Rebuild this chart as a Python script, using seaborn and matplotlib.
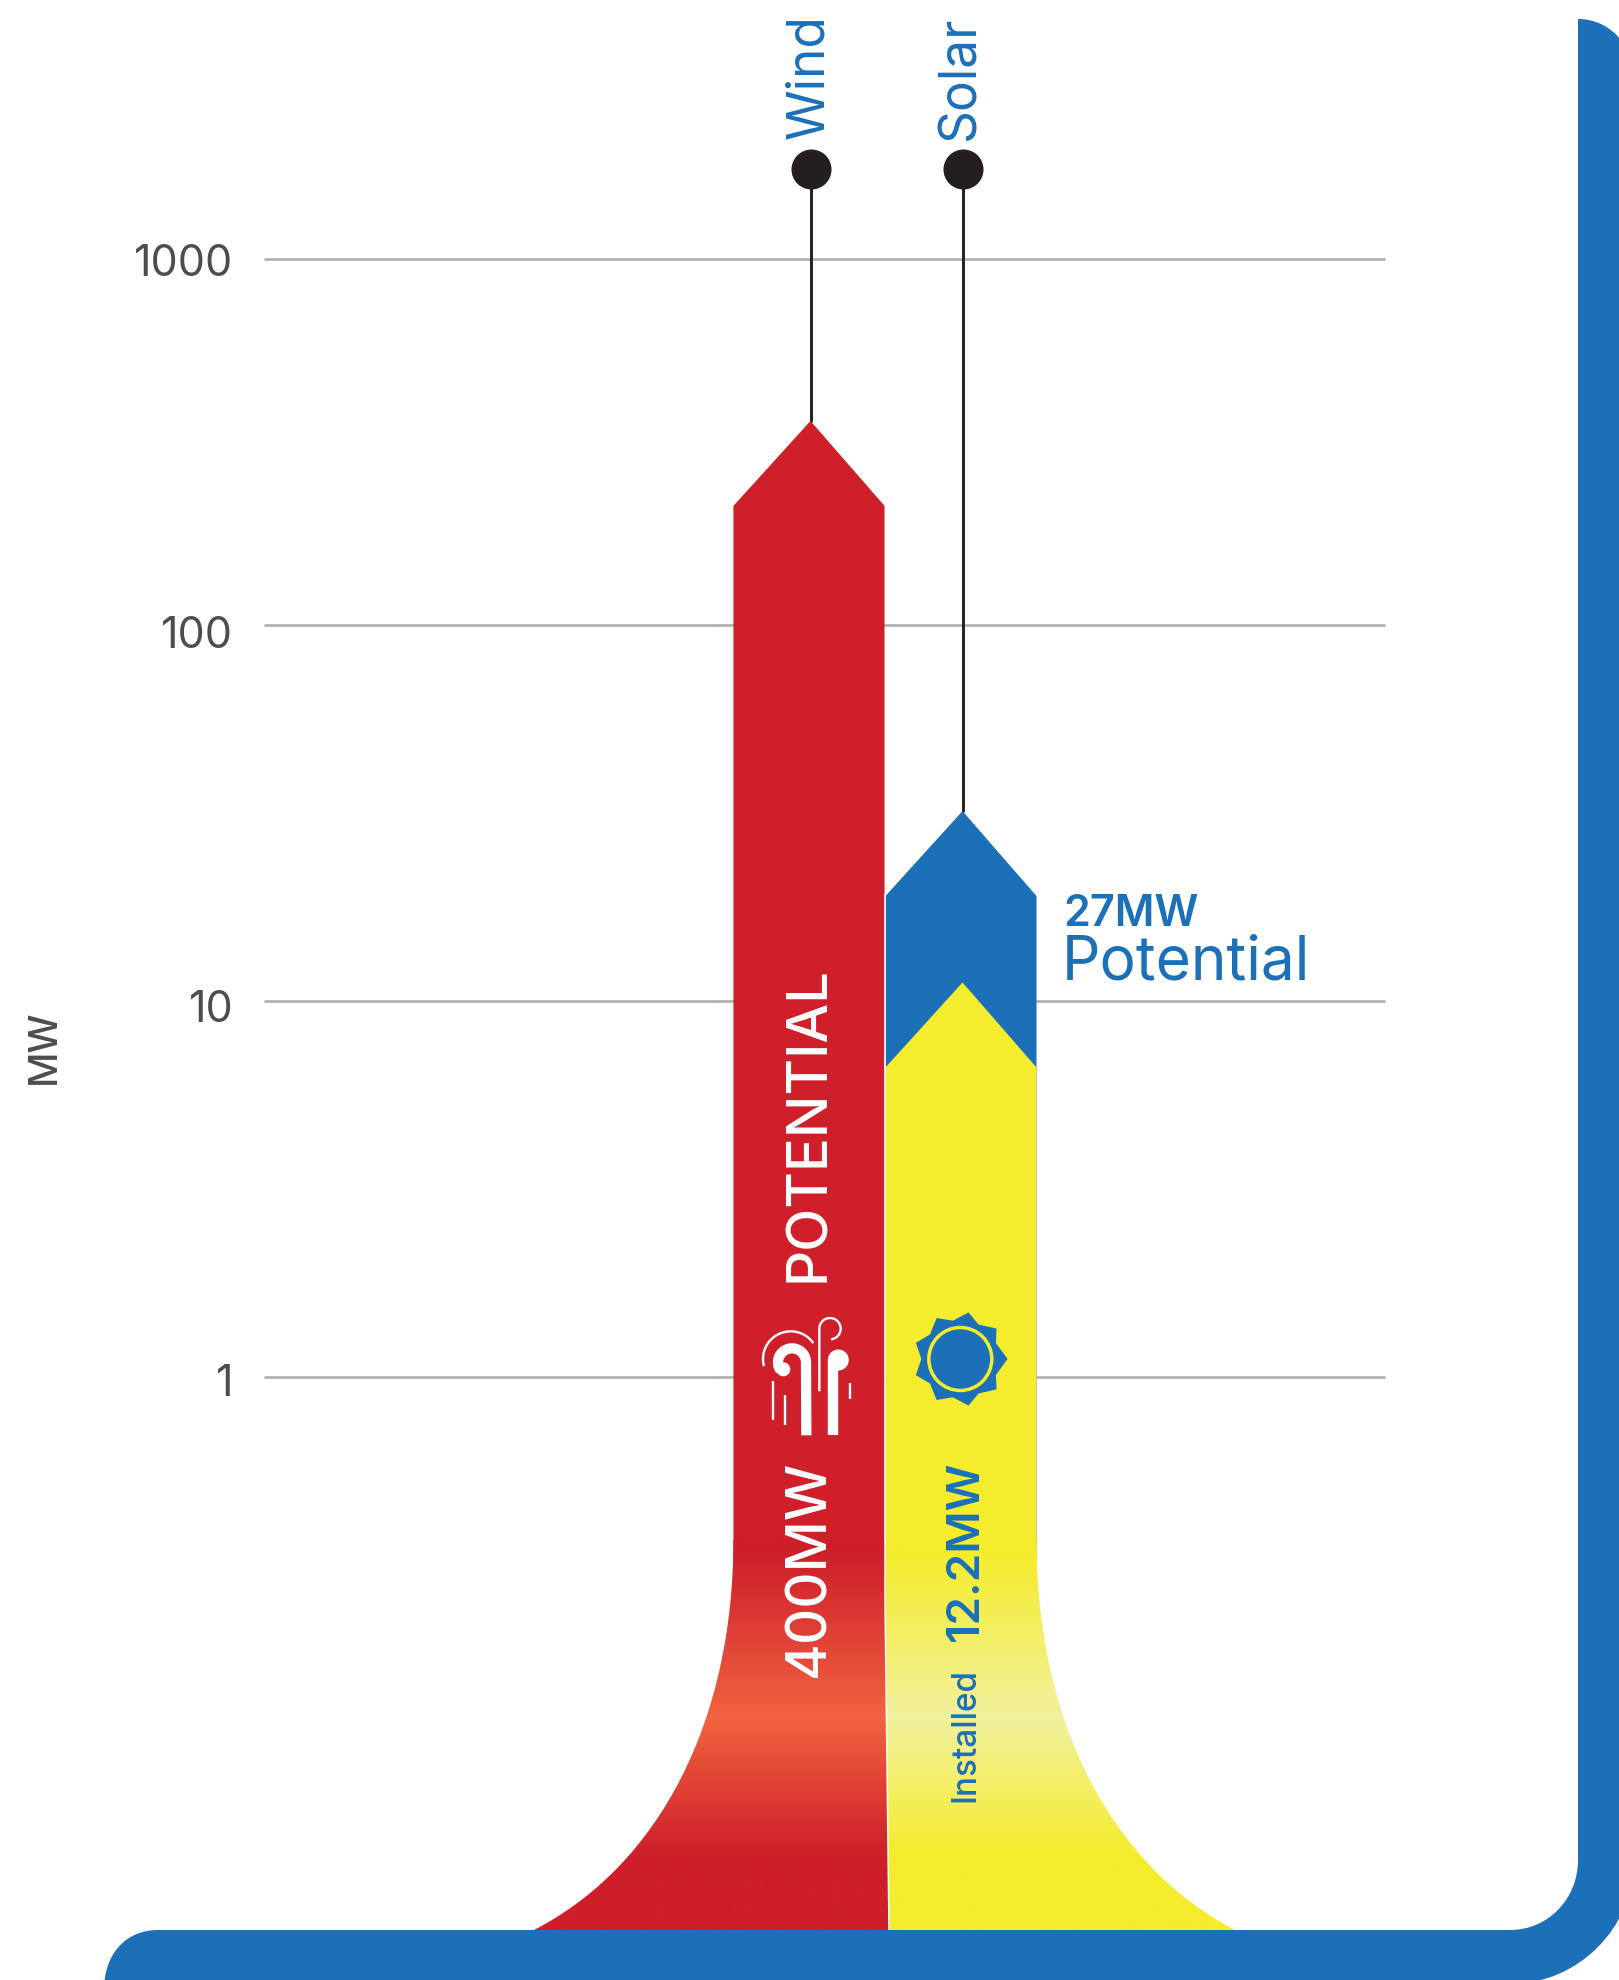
import matplotlib
matplotlib.use("Agg")
import matplotlib.pyplot as plt
from matplotlib.colors import LinearSegmentedColormap
from matplotlib.patches import Circle, PathPatch, Polygon
from matplotlib.path import Path
from matplotlib.transforms import ScaledTranslation
import numpy as np
import pandas as pd
import seaborn as sns

# Data
sources = ["Wind", "Solar"]
potential_tips = [361, 32]      # where the arrow points sit on the axis
installed_tip = [11.2]          # solar installed arrow
dot_values = [1762, 1762]
tick_values = [1, 10, 100, 1000]
tick_labels = ["1", "10", "100", "1000"]

BLUE = "#1B70B8"
RED = "#CE1F2A"
YELLOW = "#F4EC2C"
DARK = "#231F20"
GREY = "#4D4D4F"
FONT = "Inter"

sns.set_theme(style="white")
plt.rcParams["font.family"] = [FONT, "DejaVu Sans"]

W, H = 1619, 1980
X0 = 810.5
fig = plt.figure(figsize=(W / 100, H / 100), dpi=100, facecolor="white")


# axis is log, but the top decade is slightly shorter in the original
def y_forward(v):
    return np.interp(np.log10(np.maximum(v, 1e-9)), [-1.604, 0, 1, 2, 3, 3.708], [0, 603, 979, 1355, 1721, 1980])


def y_inverse(h):
    return 10 ** np.interp(h, [0, 603, 979, 1355, 1721, 1980], [-1.604, 0, 1, 2, 3, 3.708])


def x_to_data(p):
    return (p - X0) / 152


ax = fig.add_axes([0, 0, 1, 1])
ax.set_yscale("function", functions=(y_forward, y_inverse))
ax.set_xlim(x_to_data(0), x_to_data(W))
ax.set_ylim(10 ** -1.604, 10 ** 3.708)
sns.despine(ax=ax, left=True, bottom=True)

# grid lines stop short of the figure edges
ax.hlines(tick_values, x_to_data(264), x_to_data(1385), color="#B2AEAB", lw=1.9, zorder=1)


def arrow(x, tip, base, color, drop=0.226):
    shoulder = tip / 10 ** drop
    pts = [(x - 0.507, base), (x - 0.507, shoulder), (x, tip), (x + 0.487, shoulder), (x + 0.487, base)]
    ax.add_patch(Polygon(pts, closed=True, fc=color, ec="none", zorder=3))


BASE = 10 ** -0.48
arrow(0, potential_tips[0], BASE, RED, drop=0.232)
arrow(1, potential_tips[1], BASE, BLUE)
arrow(1, installed_tip[0], BASE, YELLOW)

# stems and the dots on top of them
for i, source in enumerate(sources):
    stem = pd.DataFrame({"x": [i, i], "y": [potential_tips[i], dot_values[i]]})
    sns.lineplot(data=stem, x="x", y="y", color=DARK, lw=2.1, ax=ax, zorder=2, estimator=None, sort=False)
dots = pd.DataFrame({"x": [0, 1], "y": dot_values})
sns.scatterplot(data=dots, x="x", y="y", s=830, color=DARK, linewidth=0, ax=ax, zorder=4, legend=False)

ax.set_xlabel("")
ax.set_xticks([])
ax.set_yticks(tick_values)
ax.set_yticklabels(tick_labels, fontsize=31, color=GREY)
ax.yaxis.set_minor_locator(plt.NullLocator())
ax.tick_params(axis="y", length=0, pad=-168)
ax.set_ylabel("MW", fontsize=28, color=GREY, fontweight="medium")
ax.yaxis.set_label_coords(63 / W, 933 / H)

# the printed tick numbers sit a few pixels under their lines
for label, shift in zip(ax.get_yticklabels(), [3, 5, 7, 1]):
    label.set_transform(label.get_transform() + ScaledTranslation(0, -shift / 100, fig.dpi_scale_trans))

# overlay in pixel coordinates for the flares, icons and frame
px = fig.add_axes([0, 0, 1, 1], facecolor="none")
px.set_xlim(0, W)
px.set_ylim(H, 0)
px.axis("off")


def flare(points, colors):
    path = Path(points, [Path.MOVETO] + [Path.LINETO] * 1 + [Path.CURVE4] * 3 + [Path.LINETO] * 2 + [Path.CLOSEPOLY])
    clip = PathPatch(path, fc="none", ec="none", transform=px.transData)
    px.add_patch(clip)
    grad = np.linspace(0, 1, 400).reshape(-1, 1)
    cmap = LinearSegmentedColormap.from_list("g", colors)
    im = px.imshow(grad, extent=(500, 1300, 1935, 1540), cmap=cmap, aspect="auto", zorder=2, interpolation="bilinear")
    im.set_clip_path(clip)


# stops follow the lighter band near y=1717
def stops(solid, light):
    return [(0, solid), (0.03, solid), (0.45, light), (0.80, solid), (1, solid)]


flare([(886, 1540), (733.4, 1540), (733.4, 1720), (660, 1865), (534, 1930), (889, 1930), (886, 1540), (886, 1540)],
      stops(RED, "#F26341"))
flare([(885, 1540), (1036.5, 1540), (1036.5, 1720), (1110, 1865), (1235, 1930), (889, 1930), (885, 1540), (885, 1540)],
      stops(YELLOW, "#F2F19E"))
px.set_xlim(0, W)
px.set_ylim(H, 0)

# thin white gap between the two columns
px.plot([885, 885, 889], [895, 1600, 1930], color="white", lw=1.1, zorder=3)


def spot(zx, zy):
    # icon sketch coordinates come from a 3x crop starting at (720, 1280)
    return 720 + np.asarray(zx) / 3, 1280 + np.asarray(zy) / 3


def arc(cx, cy, r, a0, a1):
    t = np.radians(np.linspace(a0, a1, 50))
    return cx + r * np.cos(t), cy - r * np.sin(t)


def stroke(zx, zy, lw, cap="butt"):
    x, y = spot(zx, zy)
    px.plot(x, y, color="white", lw=lw, solid_capstyle=cap, zorder=5)


# wind icon
ax0, ay0 = arc(216, 247, 42, 0, 215)
stroke(np.r_[259, ax0], np.r_[466, ay0], 7.4)
px.add_patch(Circle(spot(190, 268), 7, fc="white", ec="none", zorder=5))
stroke([340, 340], [466, 240], 7.5)
px.add_patch(Circle(spot(355, 240), 10.5, fc="white", ec="none", zorder=5))
ax1, ay1 = arc(212, 237, 83, 35, 195)
stroke(ax1, ay1, 1.7)
ax2, ay2 = arc(330, 146, 32, 180, -85)
stroke(np.r_[298, ax2], np.r_[334, ay2], 1.7)
stroke([160, 160], [302, 420], 1.7)
stroke([195, 195], [344, 436], 1.7)
stroke([390, 390], [310, 358], 1.7)

# sun icon, the valleys lean towards the next point
tip_angles = np.arange(0, 360, 40)
valley_angles = [24, 62, 101, 141, 180, 219, 259, 298, 336]
sun_pts = []
for a, v in zip(tip_angles, valley_angles):
    sun_pts.append((960.3 + 47.3 * np.cos(np.radians(a)), 1359 - 47.3 * np.sin(np.radians(a))))
    sun_pts.append((960.3 + 39 * np.cos(np.radians(v)), 1359 - 39 * np.sin(np.radians(v))))
px.add_patch(Polygon(sun_pts, closed=True, fc=BLUE, ec="none", zorder=5))
px.add_patch(Circle((960.3, 1359), 31.5, fc=BLUE, ec=YELLOW, lw=2.5, zorder=6))

# blue frame
frame = Path(
    [(104, 1990), (104, 1955), (125, 1930), (158, 1930), (1510, 1930), (1548, 1930), (1578, 1899), (1578, 1860),
     (1578, 19), (1608, 19), (1632, 43), (1632, 73), (1634, 1860), (1634, 1928), (1578, 1984), (1510, 1984),
     (104, 1990)],
    [Path.MOVETO, Path.CURVE4, Path.CURVE4, Path.CURVE4, Path.LINETO, Path.CURVE4, Path.CURVE4, Path.CURVE4,
     Path.LINETO, Path.CURVE4, Path.CURVE4, Path.CURVE4, Path.LINETO, Path.CURVE4, Path.CURVE4, Path.CURVE4,
     Path.CLOSEPOLY],
)
px.add_patch(PathPatch(frame, fc=BLUE, ec="none", zorder=7))

# text
rot = dict(rotation=90, ha="center", va="center", zorder=6)
px.text(810, 77, "Wind", color=BLUE, fontsize=37, **rot)
px.text(961, 78, "Solar", color=BLUE, fontsize=37, **rot)
px.text(809, 1124, "POTENTIAL", color="white", fontsize=40.5, fontweight="medium", **rot)
px.text(809, 1568, "400MW", color="white", fontsize=40.5, fontweight="medium", **rot)
px.text(966, 1551, "12.2MW", color=BLUE, fontsize=33, fontweight="semibold", **rot)
px.text(965, 1735, "Installed", color=BLUE, fontsize=24, fontweight="medium", **rot)
px.text(1063, 926, "27MW", color=BLUE, fontsize=31, fontweight="semibold", ha="left", va="baseline", zorder=6)
px.text(1062, 979, "Potential", color=BLUE, fontsize=43.5, ha="left", va="baseline", zorder=6)

fig.savefig("out.png", dpi=100)
